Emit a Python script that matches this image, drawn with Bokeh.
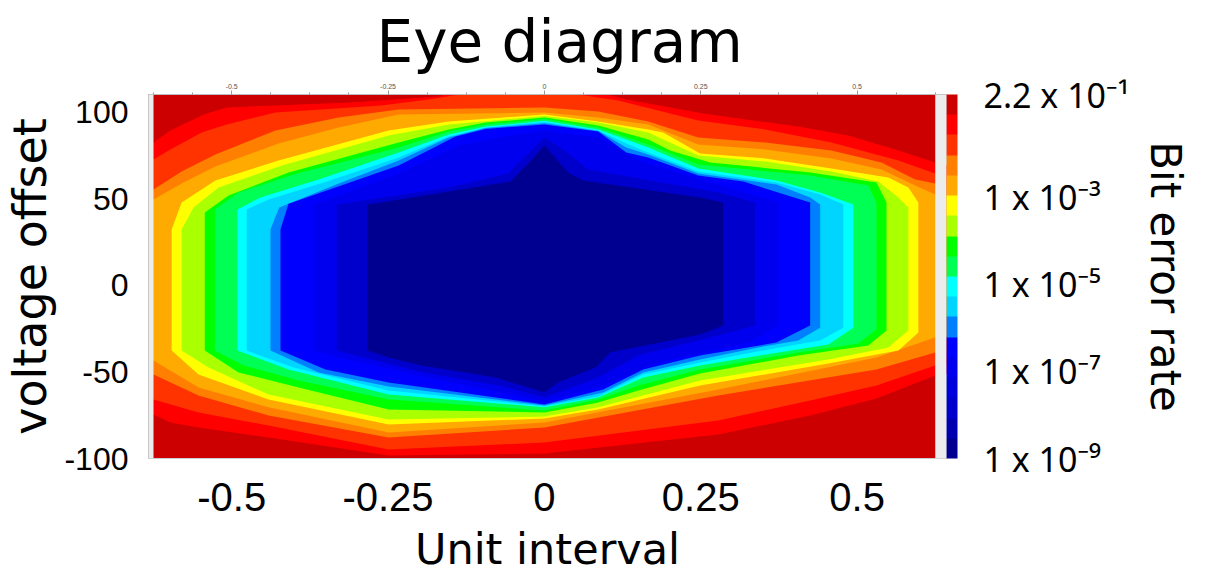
import numpy as np
from bokeh.plotting import figure
from bokeh.models import (ColorBar, LogColorMapper, FixedTicker, LinearAxis,
                          BoxAnnotation, AllLabels)
from bokeh.embed import file_html
from bokeh.resources import INLINE

# ---------------- data ----------------
# colour bands, from highest BER (top of colour bar) to lowest
band_colors = ["#CC0000", "#FF0000", "#FF3300", "#FF7F00", "#FFAA00", "#FFFF00",
               "#AAFF00", "#00FF00", "#00FF55", "#00FFFF", "#00D5FF", "#0080FF",
               "#0000FF", "#0000EE", "#0000DD", "#0000CC", "#0000B0", "#000090"]

cbar_ticks = [0.22, 1e-3, 1e-5, 1e-7, 1e-9]
cbar_labels = ["2.2 x 10\u207b\u00b9", "1 x 10\u207b\u00b3", "1 x 10\u207b\u2075",
               "1 x 10\u207b\u2077", "1 x 10\u207b\u2079"]
x_ticks = [-0.5, -0.25, 0, 0.25, 0.5]
x_labels = ["-0.5", "-0.25", "0", "0.25", "0.5"]
y_ticks = [-100, -50, 0, 50, 100]
y_labels = ["-100", "-50", "0", "50", "100"]

# contour boundaries (unit interval, voltage offset), outermost first
red_x = [-0.665, -0.625, -0.598, -0.545, -0.508, -0.430, -0.313, -0.169, -0.121, 0.046, 0.131, 0.254, 0.406, 0.486, 0.566, 0.625, 0.662,
         0.662, 0.625, 0.531, 0.425, 0.278, 0.0, -0.249, -0.441, -0.553, -0.598, -0.625, -0.665]
red_y = [79.4, 82.3, 89.2, 98.5, 102.5, 103.7, 105.4, 108.8, 115.2, 115.2, 107.1, 99.0, 91.5, 86.3, 77.7, 70.8, 67.9,
         -50.4, -52.1, -65.4, -75.2, -86.2, -97.1, -98.3, -87.9, -82.1, -79.2, -74.6, -71.7]

redorange_x = [-0.665, -0.625, -0.598, -0.548, -0.508, -0.430, -0.261, -0.185, -0.126, -0.074, 0.0, 0.043, 0.118, 0.246, 0.353, 0.459, 0.566, 0.625, 0.662,
               0.662, 0.625, 0.531, 0.425, 0.278, 0.0, -0.249, -0.441, -0.553, -0.625, -0.665]
redorange_y = [70.8, 72.5, 78.3, 88.1, 92.7, 99.6, 103.7, 107.1, 110.6, 116.3, 116.3, 110.6, 106.5, 95.0, 89.8, 82.3, 71.9, 64.4, 62.1,
               -44.6, -46.3, -57.9, -66.5, -78.1, -90.8, -94.8, -81.0, -73.4, -65.9, -63.6]

orange_x = [-0.665, -0.625, -0.580, -0.526, -0.430, -0.329, -0.233, 0.0, 0.086, 0.166, 0.246, 0.353, 0.459, 0.539, 0.593, 0.625, 0.662,
            0.662, 0.625, 0.531, 0.278, 0.0, -0.249, -0.441, -0.553, -0.625, -0.665]
orange_y = [53.5, 55.2, 65.6, 75.4, 89.2, 96.7, 101.3, 102.5, 100.2, 94.4, 85.2, 82.3, 77.7, 70.8, 61.0, 58.7, 56.3,
            -37.1, -38.8, -48.7, -63.6, -82.1, -87.9, -75.2, -63.6, -51.5, -48.7]

lightorange_x = [-0.665, -0.625, -0.580, -0.526, -0.425, -0.329, -0.233, 0.0, 0.086, 0.166, 0.246, 0.353, 0.459, 0.539, 0.593, 0.625, 0.662,
                 0.662, 0.625, 0.531, 0.278, 0.0, -0.249, -0.441, -0.553, -0.625, -0.665]
lightorange_y = [48.3, 49.4, 58.7, 68.5, 81.7, 91.0, 98.5, 99.6, 96.7, 92.7, 81.2, 78.3, 73.1, 66.7, 57.5, 52.3, 50.6,
                 -28.5, -30.2, -41.7, -60.2, -79.2, -85.0, -70.5, -59.0, -43.5, -41.7]

yellow_x = [-0.596, -0.580, -0.526, -0.425, -0.249, -0.153, 0.0, 0.086, 0.166, 0.190, 0.249, 0.353, 0.459, 0.550, 0.582, 0.598,
            0.598, 0.566, 0.454, 0.249, 0.086, 0.0, -0.249, -0.441, -0.553, -0.596]
yellow_y = [32.1, 47.7, 60.4, 71.9, 89.2, 94.4, 98.5, 94.4, 89.8, 88.1, 76.0, 73.1, 67.3, 62.1, 56.3, 47.7,
            -27.3, -37.7, -45.2, -57.9, -71.7, -76.9, -80.4, -65.9, -51.5, -37.7]

yellowgreen_x = [-0.580, -0.561, -0.521, -0.420, -0.249, -0.153, 0.0, 0.086, 0.166, 0.246, 0.353, 0.459, 0.534, 0.566, 0.582,
                 0.582, 0.550, 0.454, 0.249, 0.086, 0.0, -0.249, -0.441, -0.537, -0.580]
yellowgreen_y = [32.1, 44.8, 56.3, 69.0, 86.3, 92.7, 97.6, 93.8, 88.1, 74.8, 71.3, 65.6, 59.8, 50.6, 44.8,
                 -26.2, -35.9, -42.9, -55.0, -70.5, -75.8, -77.5, -63.1, -47.5, -37.7]

green_x = [-0.543, -0.505, -0.409, -0.233, -0.153, -0.094, 0.0, 0.086, 0.166, 0.201, 0.265, 0.425, 0.531, 0.547,
           0.547, 0.518, 0.406, 0.249, 0.150, 0.086, 0.0, -0.249, -0.393, -0.489, -0.543]
green_y = [41.9, 51.7, 65.0, 82.3, 89.8, 93.8, 96.7, 92.1, 84.0, 77.7, 70.8, 65.0, 59.2, 47.7,
           -26.2, -34.8, -40.6, -50.9, -60.8, -67.7, -73.4, -71.7, -59.0, -50.4, -37.7]

springgreen_x = [-0.527, -0.489, -0.401, -0.233, -0.153, -0.094, 0.0, 0.086, 0.166, 0.246, 0.425, 0.518, 0.531,
                 0.531, 0.502, 0.406, 0.249, 0.150, 0.086, 0.0, -0.249, -0.393, -0.481, -0.527]
springgreen_y = [43.7, 53.5, 63.8, 79.4, 88.7, 92.7, 95.8, 91.0, 81.2, 69.6, 63.3, 57.5, 47.7,
                 -25.6, -33.7, -38.8, -48.7, -57.9, -65.9, -72.3, -65.9, -55.0, -46.3, -37.7]

cyan_x = [-0.491, -0.454, -0.361, -0.233, -0.153, -0.094, 0.0, 0.086, 0.131, 0.166, 0.246, 0.371, 0.441, 0.494,
          0.494, 0.454, 0.374, 0.249, 0.158, 0.086, 0.0, -0.249, -0.409, -0.491]
cyan_y = [43.7, 50.6, 61.0, 76.5, 86.9, 91.5, 94.8, 89.8, 84.0, 79.4, 67.3, 60.4, 53.5, 46.5,
          -24.5, -34.2, -38.8, -46.3, -53.3, -64.8, -70.5, -63.1, -48.7, -37.7]

lightblue_x = [-0.476, -0.441, -0.353, -0.233, -0.153, -0.094, 0.0, 0.086, 0.131, 0.166, 0.246, 0.371, 0.441, 0.478,
               0.478, 0.441, 0.358, 0.249, 0.158, 0.086, 0.0, -0.249, -0.401, -0.476]
lightblue_y = [43.7, 49.4, 59.2, 73.7, 85.8, 91.0, 94.2, 89.2, 81.7, 76.5, 65.6, 59.2, 52.3, 46.5,
               -24.5, -31.9, -37.1, -44.6, -51.5, -64.2, -69.9, -60.8, -47.5, -37.7]

azure_x = [-0.438, -0.424, -0.329, -0.233, -0.153, -0.094, 0.0, 0.086, 0.131, 0.166, 0.246, 0.371, 0.425, 0.441,
           0.441, 0.406, 0.342, 0.249, 0.158, 0.094, 0.0, -0.249, -0.361, -0.438]
azure_y = [32.1, 44.8, 58.7, 71.9, 85.2, 90.7, 93.4, 88.9, 79.4, 75.4, 64.4, 58.1, 50.6, 46.5,
           -24.5, -31.9, -35.9, -42.9, -50.4, -61.9, -69.4, -58.5, -50.4, -37.7]

blue_x = [-0.422, -0.409, -0.233, -0.142, -0.094, 0.0, 0.086, 0.131, 0.166, 0.246, 0.318, 0.425,
          0.425, 0.371, 0.249, 0.158, 0.094, 0.0, -0.249, -0.350, -0.422]
blue_y = [32.1, 47.0, 69.0, 85.8, 90.1, 92.7, 88.7, 76.5, 73.7, 63.3, 59.8, 47.7,
          -23.3, -33.1, -40.6, -48.7, -60.2, -68.8, -56.1, -48.7, -37.7]

blue2_x = [-0.369, -0.233, -0.137, -0.074, 0.0, 0.086, 0.150, 0.254, 0.374,
           0.374, 0.326, 0.182, 0.094, 0.0, -0.201, -0.313, -0.369]
blue2_y = [46.5, 64.4, 80.6, 85.2, 89.2, 85.2, 71.9, 60.4, 47.7,
           -23.3, -33.1, -44.6, -57.9, -67.1, -52.1, -42.9, -37.7]

blue3_x = [-0.332, -0.153, -0.058, -0.026, 0.0, 0.030, 0.070, 0.278, 0.337,
           0.337, 0.278, 0.150, 0.086, 0.0, -0.074, -0.201, -0.332]
blue3_y = [46.5, 56.3, 64.4, 76.0, 85.2, 78.3, 66.7, 53.5, 47.7,
           -23.3, -29.0, -40.6, -53.3, -64.8, -57.9, -49.8, -37.7]

navy_x = [-0.283, -0.261, -0.054, -0.029, 0.0, 0.038, 0.062, 0.249, 0.286,
          0.286, 0.249, 0.105, 0.082, 0.022, 0.0, -0.078, -0.197, -0.249, -0.283]
navy_y = [46.5, 47.7, 59.8, 69.0, 80.6, 65.0, 60.4, 50.6, 47.7,
          -23.3, -28.5, -38.8, -47.5, -56.1, -61.9, -53.3, -46.3, -41.7, -37.7]

# (boundary x, boundary y, colour band inside)
levels = [(red_x, red_y, 1), (redorange_x, redorange_y, 2), (orange_x, orange_y, 3),
          (lightorange_x, lightorange_y, 4), (yellow_x, yellow_y, 5),
          (yellowgreen_x, yellowgreen_y, 6), (green_x, green_y, 7),
          (springgreen_x, springgreen_y, 8), (cyan_x, cyan_y, 9),
          (lightblue_x, lightblue_y, 10), (azure_x, azure_y, 11), (blue_x, blue_y, 12),
          (blue2_x, blue2_y, 13), (blue3_x, blue3_y, 15), (navy_x, navy_y, 17)]

# ---------------- figure ----------------
p = figure(frame_width=798, frame_height=364, x_range=(-0.633, 0.643), y_range=(-100, 110),
           output_backend="svg", toolbar_location=None,
           min_border_left=142, min_border_right=240, min_border_top=89, min_border_bottom=114)
p.title.text = "Eye diagram"
p.title.align = "left"
p.title.offset = 228
p.title.text_font = "DejaVu Sans"
p.title.text_font_size = "58px"
p.title.text_font_style = "normal"
p.title.text_color = "#000000"

p.background_fill_color = band_colors[0]
p.border_fill_color = "white"
p.grid.visible = False
p.outline_line_color = "#C8C8C8"

p.patches(xs=[lv[0] for lv in levels], ys=[lv[1] for lv in levels],
          fill_color=[band_colors[lv[2]] for lv in levels], line_color=None)

# grey margins of the original instrument plot
p.add_layout(BoxAnnotation(left=0.625, fill_color="#ECECEC", fill_alpha=1, line_color=None))
p.add_layout(BoxAnnotation(right=-0.625, fill_color="#ECECEC", fill_alpha=1, line_color=None))

# bottom axis
xa = p.xaxis[0]
xa.ticker = FixedTicker(ticks=x_ticks)
xa.major_label_overrides = dict(zip(x_ticks, x_labels))
xa.axis_label = "Unit interval"
xa.axis_label_text_font = "DejaVu Sans"
xa.axis_label_text_font_size = "43px"
xa.axis_label_text_font_style = "normal"
xa.axis_label_text_color = "#000000"
xa.axis_label_standoff = 10
xa.major_label_text_font = "Liberation Sans"
xa.major_label_text_font_size = "40px"
xa.major_label_text_color = "#000000"
xa.major_label_standoff = 24
xa.major_tick_in = 0
xa.major_tick_out = 0
xa.minor_tick_in = 0
xa.minor_tick_out = 0
xa.major_tick_line_color = None
xa.minor_tick_line_color = None
xa.axis_line_color = "#CCCCCC"

# left axis
ya = p.yaxis[0]
ya.ticker = FixedTicker(ticks=y_ticks)
ya.major_label_overrides = dict(zip(y_ticks, y_labels))
ya.axis_label = "voltage offset"
ya.axis_label_text_font = "DejaVu Sans"
ya.axis_label_text_font_size = "46px"
ya.axis_label_text_font_style = "normal"
ya.axis_label_text_color = "#000000"
ya.axis_label_standoff = 4
ya.major_label_text_font = "Liberation Sans"
ya.major_label_text_font_size = "32px"
ya.major_label_text_color = "#000000"
ya.major_label_standoff = 20
ya.major_tick_in = 0
ya.major_tick_out = 0
ya.minor_tick_in = 0
ya.minor_tick_out = 0
ya.major_tick_line_color = None
ya.minor_tick_line_color = None
ya.axis_line_color = "#BBBBBB"

# small top axis (from the original instrument plot)
ta = LinearAxis(ticker=FixedTicker(ticks=x_ticks, minor_ticks=list(np.arange(-0.625, 0.63, 0.0625))),
                major_label_overrides=dict(zip(x_ticks, x_labels)),
                major_label_text_font_size="7px", major_label_text_color="#555555",
                axis_line_color="#BBBBBB", major_tick_line_color="#999999",
                minor_tick_line_color="#999999", major_tick_in=0, major_tick_out=4,
                minor_tick_in=0, minor_tick_out=2, major_label_standoff=2)
p.add_layout(ta, "above")

# colour bar
mapper = LogColorMapper(palette=band_colors[::-1], low=1e-9, high=0.22)
cb = ColorBar(color_mapper=mapper, ticker=FixedTicker(ticks=cbar_ticks),
              major_label_overrides=dict(zip(cbar_ticks, cbar_labels)),
              major_label_policy=AllLabels(),
              width=11, padding=0, margin=0, bar_line_color=None,
              major_tick_line_color=None, minor_tick_line_color=None,
              major_tick_in=0, major_tick_out=0,
              label_standoff=26, major_label_text_font="Noto Sans",
              major_label_text_font_size="34px", major_label_text_color="#000000",
              border_line_color=None, background_fill_alpha=0)
p.add_layout(cb, "right")

ra = LinearAxis(axis_label="Bit error rate", ticker=FixedTicker(ticks=[]),
                axis_line_color=None, major_tick_line_color=None, minor_tick_line_color=None,
                major_tick_in=0, major_tick_out=0, minor_tick_in=0, minor_tick_out=0,
                axis_label_text_font="DejaVu Sans", axis_label_text_font_size="42px",
                axis_label_text_font_style="normal", axis_label_text_color="#000000",
                axis_label_standoff=8)
p.add_layout(ra, "right")

open("out.html", "w").write(file_html(p, INLINE))
